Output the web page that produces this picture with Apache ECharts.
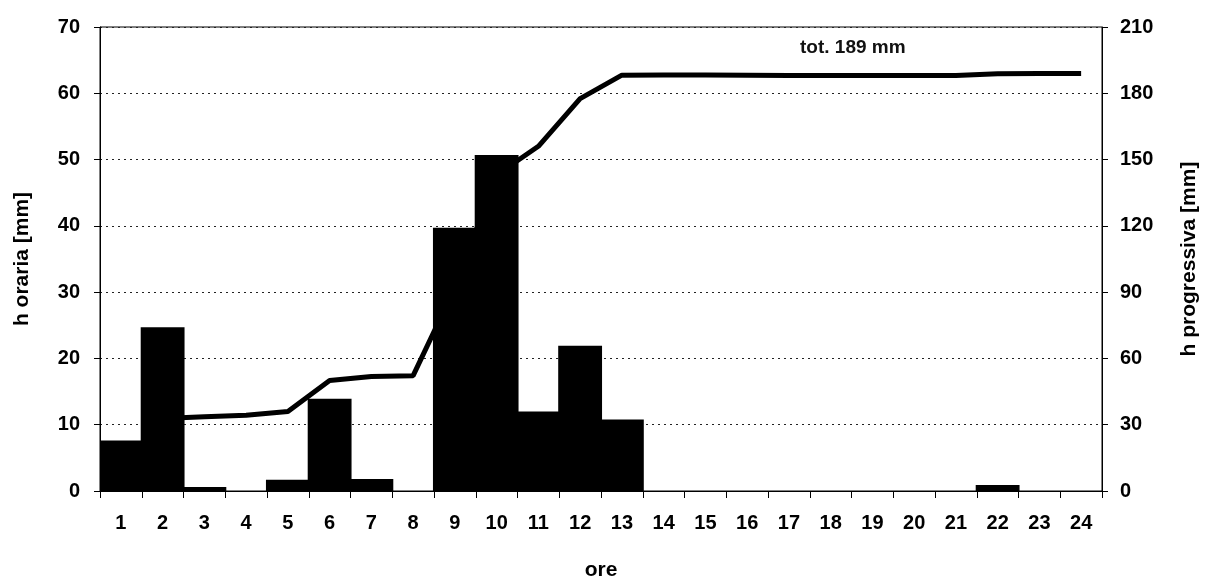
<!DOCTYPE html>
<html>
<head>
<meta charset="utf-8">
<script src="https://cdn.jsdelivr.net/npm/echarts@6/dist/echarts.min.js"></script>
<style>
  html, body { margin: 0; padding: 0; background: #fff; }
  #chart { width: 1207px; height: 583px; }
</style>
</head>
<body>
<div id="chart"></div>
<script>
// ore del giorno
var ore = ['1','2','3','4','5','6','7','8','9','10','11','12','13','14','15','16','17','18','19','20','21','22','23','24'];
// pioggia oraria [mm]
var hOraria = [7.6, 24.7, 0.6, 0, 1.7, 13.9, 1.8, 0, 39.7, 50.7, 12.0, 21.9, 10.8, 0, 0, 0, 0, 0, 0, 0, 0, 0.9, 0, 0];
// pioggia progressiva [mm]
var hProgressiva = [7.7, 32.8, 33.6, 34.3, 36.0, 50.0, 51.8, 52.2, 92.0, 143.0, 156.0, 177.6, 188.2, 188.3, 188.3, 188.2, 188.1, 188.1, 188.1, 188.1, 188.1, 188.8, 189.0, 189.0];
// tacche assi
var leftMax = 70, leftStep = 10;
var rightMax = 210, rightStep = 30;

var font = 'Liberation Sans, Arial, sans-serif';

var option = {
  backgroundColor: '#fff',
  animation: false,
  grid: {
    left: 100, right: 105, top: 27, bottom: 92,
    outerBoundsMode: 'none',
    containLabel: false,
    show: true, borderColor: '#000', borderWidth: 1
  },
  graphic: [{
    type: 'text',
    left: 800, top: 38,
    style: { text: 'tot. 189 mm', font: 'bold 19px ' + font, fill: '#111' }
  }],
  xAxis: {
    type: 'category',
    data: ore,
    name: 'ore',
    nameLocation: 'middle',
    nameGap: 69,
    nameTextStyle: { fontFamily: font, fontWeight: 'bold', fontSize: 21, color: '#000' },
    axisLine: { lineStyle: { color: '#000', width: 1 } },
    axisTick: { show: true, length: 7, lineStyle: { color: '#000' } },
    axisLabel: { fontFamily: font, fontWeight: 'bold', fontSize: 20, color: '#000', margin: 22 },
    splitLine: { show: false },
    splitArea: { show: false }
  },
  yAxis: [{
    type: 'value',
    min: 0, max: leftMax, interval: leftStep,
    name: 'h oraria [mm]',
    nameLocation: 'middle',
    nameRotate: 90,
    nameGap: 67,
    nameTextStyle: { fontFamily: font, fontWeight: 'bold', fontSize: 21, color: '#000' },
    axisLine: { show: true, lineStyle: { color: '#000' } },
    axisTick: { show: true, length: 6, lineStyle: { color: '#000' } },
    axisLabel: { fontFamily: font, fontWeight: 'bold', fontSize: 20, color: '#000', margin: 20 },
    splitLine: { show: true, lineStyle: { color: '#222', type: [2, 4], width: 1 } }
  }, {
    type: 'value',
    min: 0, max: rightMax, interval: rightStep,
    position: 'right',
    name: 'h progressiva [mm]',
    nameLocation: 'middle',
    nameRotate: 90,
    nameGap: 77,
    nameTextStyle: { fontFamily: font, fontWeight: 'bold', fontSize: 21, color: '#000' },
    axisLine: { show: true, lineStyle: { color: '#000' } },
    axisTick: { show: true, length: 6, lineStyle: { color: '#000' } },
    axisLabel: { fontFamily: font, fontWeight: 'bold', fontSize: 20, color: '#000', margin: 18 },
    splitLine: { show: false }
  }],
  series: [{
    name: 'h progressiva',
    type: 'line',
    yAxisIndex: 1,
    data: hProgressiva,
    z: 1,
    symbol: 'none',
    lineStyle: { color: '#000', width: 5 }
  }, {
    name: 'h oraria',
    type: 'bar',
    yAxisIndex: 0,
    data: hOraria,
    z: 5,
    barWidth: '105%',
    itemStyle: { color: '#000', borderWidth: 0 }
  }]
};

var chart = echarts.init(document.getElementById('chart'));
chart.setOption(option);
</script>
</body>
</html>
